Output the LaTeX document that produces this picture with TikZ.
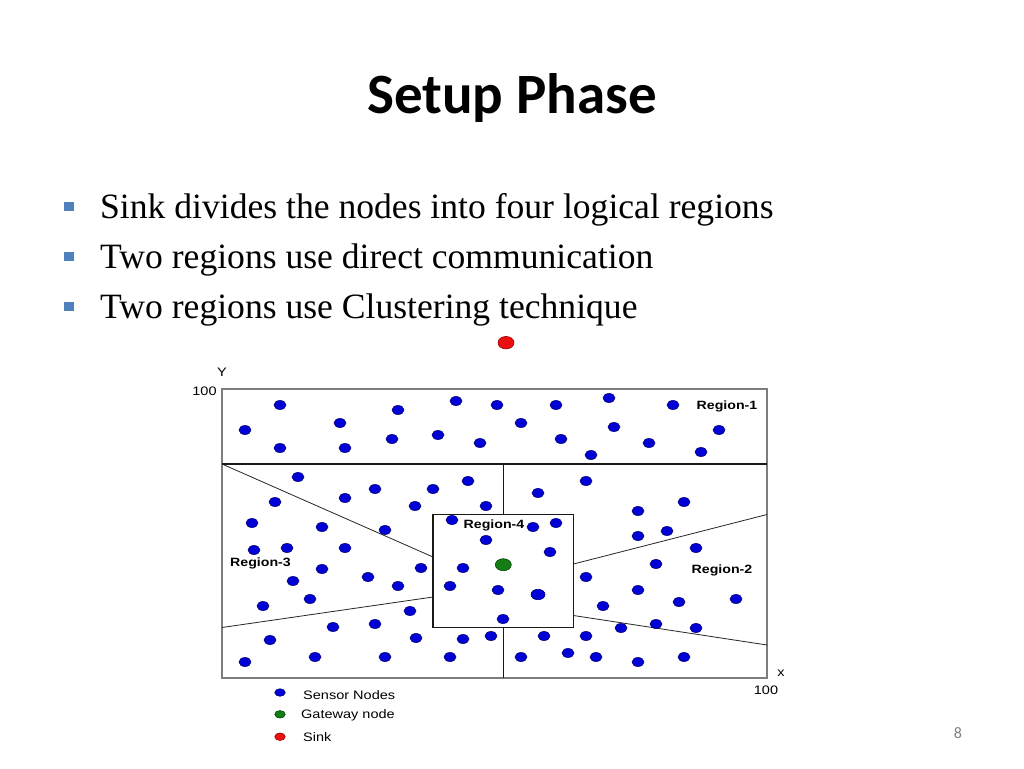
\documentclass[tikz,border=0pt]{standalone}
\usepackage{fontspec}
\setmainfont{Liberation Serif}
\newfontfamily\titlefont{Carlito}
\newfontfamily\plotfont{Liberation Sans}
\usetikzlibrary{shapes.geometric}

\definecolor{sensorblue}{RGB}{0,0,215}
\definecolor{sensoredge}{RGB}{0,0,120}
\definecolor{gatewaygreen}{RGB}{20,125,20}
\definecolor{gatewayedge}{RGB}{0,70,0}
\definecolor{sinkred}{RGB}{235,15,15}
\definecolor{sinkedge}{RGB}{150,0,0}
\definecolor{bulletblue}{RGB}{79,129,189}
\definecolor{framegray}{RGB}{125,125,125}

\newcommand{\wide}[1]{\scalebox{1.18}[1]{#1}}

\tikzstyle{sensor}=[ellipse,
                    draw=sensoredge,
                    fill=sensorblue,
                    line width=0.6pt,
                    inner sep=0pt,
                    minimum width=12pt,
                    minimum height=9pt]
\tikzstyle{bigsensor}=[sensor,
                    minimum width=14pt,
                    minimum height=10.5pt]
\tikzstyle{gateway}=[ellipse,
                    draw=gatewayedge,
                    fill=gatewaygreen,
                    line width=0.6pt,
                    inner sep=0pt,
                    minimum width=16pt,
                    minimum height=12pt]
\tikzstyle{sink}=[ellipse,
                    draw=sinkedge,
                    fill=sinkred,
                    line width=0.6pt,
                    inner sep=0pt,
                    minimum width=16pt,
                    minimum height=12.5pt]
\tikzstyle{keydot}=[minimum width=10.5pt,
                    minimum height=7.5pt]
\tikzstyle{plottext}=[inner sep=0pt,
                    font=\plotfont\fontsize{12.3}{14}\selectfont]
\tikzstyle{regiontext}=[plottext,
                    anchor=base,
                    font=\plotfont\bfseries\fontsize{12}{14}\selectfont]
\tikzstyle{bulletbox}=[fill=bulletblue,
                    inner sep=0pt,
                    minimum width=10pt,
                    minimum height=9.5pt]

\begin{document}
\begin{tikzpicture}[x=1pt,y=-1pt]
  \useasboundingbox[fill=white] (0,0) rectangle (1024,768);

  % Title and the three bullet points:
  \node (title) [anchor=base,font=\titlefont\bfseries\fontsize{57}{62}\selectfont]
        at (512,113) {Setup Phase};
  \foreach \y/\txt [count=\i] in {
        218/Sink divides the nodes into four logical regions,
        268/Two regions use direct communication,
        318/Two regions use Clustering technique} {
    \node (mark\i) [bulletbox] at (69.3,\y-11.5) {};
    \node (item\i) [anchor=base west,inner sep=0pt,font=\fontsize{35.6}{40}\selectfont]
          at (100,\y) {\txt};
  }

  % Frame, region borders and the box of region 4:
  \coordinate (NW) at (222,389);
  \coordinate (SE) at (767,678);
  \coordinate (midW) at (222,464);
  \coordinate (midE) at (767,464);
  \coordinate (lowW) at (222,627.5);
  \coordinate (upE) at (767,514.5);
  \coordinate (lowE) at (767,645);
  \coordinate (top) at (503.3,464);
  \coordinate (bottom) at (503.3,678);
  \coordinate (boxNW) at (433,514.5);
  \coordinate (boxSE) at (573.5,627.5);
  \coordinate (boxN) at (503.3,514.5);
  \coordinate (boxS) at (503.3,627.5);
  \coordinate (boxW1) at (433,557);
  \coordinate (boxW2) at (433,597);
  \coordinate (boxE1) at (573.5,564);
  \coordinate (boxE2) at (573.5,615.5);

  \draw[framegray,line width=1.2pt] (NW) rectangle (SE);
  \draw[black!85,line width=0.8pt]
        (midW) -- (boxW1)  (lowW) -- (boxW2)
        (boxE1) -- (upE)   (boxE2) -- (lowE);
  \draw[black!90,line width=1.6pt]
        (midW) -- (midE)
        (top) -- (boxN)  (boxS) -- (bottom)
        (boxNW) rectangle (boxSE);

  % Axes and region names:
  \node (ylabel) [plottext] at (222,372.5) {\wide{Y}};
  \node (ymax) [plottext] at (204.5,391.5) {\wide{100}};
  \node (xlabel) [plottext] at (781,673.5) {\wide{x}};
  \node (xmax) [plottext] at (766,690) {\wide{100}};
  \node (region1) [regiontext] at (727,409.6) {\wide{Region-1}};
  \node (region2) [regiontext] at (722,573.3) {\wide{Region-2}};
  \node (region3) [regiontext] at (260.5,566.5) {\wide{Region-3}};
  \node (region4) [regiontext] at (494,528.6) {\wide{Region-4}};

  % Sensor nodes:
  \foreach \x/\y [count=\i] in {
        280/405, 245/430, 280/448, 340/423, 345/448, 398/410, 392/439,
        456/401, 438/435, 480/443, 497/405, 521/423, 556/405, 561/439,
        609/398, 614/427, 591/455, 649/443, 673/405, 719/430, 701/452,
        298/477, 275/502, 345/498, 375/489, 415/506, 433/489, 468/481,
        486/506, 252/523, 322/527, 385/530, 452/520, 538/493, 586/481,
        533/527, 556/523, 254/550, 287/548, 345/548, 322/569, 293/581,
        368/577, 398/586, 421/568, 463/568, 450/586, 486/540, 550/552,
        498/590, 503/619, 586/577, 263/606, 310/599, 410/611, 333/627,
        375/624, 270/640, 416/638, 463/639, 491/636, 245/662, 315/657,
        385/657, 450/657, 521/657, 568/653, 596/657, 638/662, 684/657,
        544/636, 586/636, 621/628, 656/624, 696/628, 603/606, 638/590,
        679/602, 736/599, 656/564, 696/548, 638/536, 667/531, 638/511,
        684/502} {
    \node (s\i) [sensor] at (\x,\y) {};
  }
  \node (sbig) [bigsensor] at (538,594.5) {};
  \node (gw) [gateway] at (503.3,564.7) {};
  \node (sinknode) [sink] at (506,342.7) {};

  % Legend:
  \node (keysensor) [sensor,keydot] at (280,692.5) {};
  \node (keygateway) [gateway,keydot] at (280,714.3) {};
  \node (keysink) [sink,keydot] at (280,736.7) {};
  \node (txtsensor) [plottext,anchor=base west] at (303,699.3) {\wide{Sensor Nodes}};
  \node (txtgateway) [plottext,anchor=base west] at (301,718.6) {\wide{Gateway node}};
  \node (txtsink) [plottext,anchor=base west] at (303,741) {\wide{Sink}};

  \node (pagenum) [font=\titlefont\fontsize{16}{18}\selectfont,text=black!50]
        at (958,733) {8};
\end{tikzpicture}
\end{document}
